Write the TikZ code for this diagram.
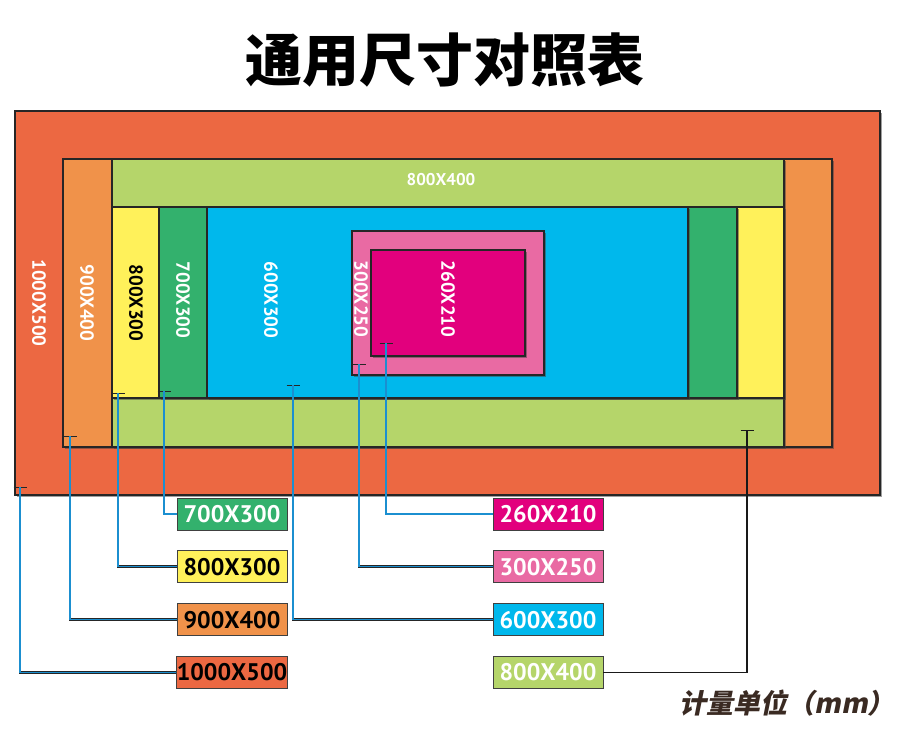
\documentclass[tikz,border=0pt]{standalone}
\usepackage{fontspec}
\setmainfont{PT Sans}
\newfontfamily\cjk{Noto Sans CJK SC}
\newfontfamily\cjkslant{Noto Sans CJK SC}[FakeSlant=0.2]
\usepackage{tikz}
\usetikzlibrary{
  arrows.meta,
  positioning,
  shadows
}
\definecolor{size1000}{HTML}{EC6842}
\definecolor{size900}{HTML}{F0924A}
\definecolor{size800b}{HTML}{B5D56A}
\definecolor{size800}{HTML}{FFF15A}
\definecolor{size700}{HTML}{33B16D}
\definecolor{size600}{HTML}{00B8EC}
\definecolor{size300}{HTML}{E96AA3}
\definecolor{size260}{HTML}{E2007D}
\definecolor{linkblue}{HTML}{1B8FD0}
\definecolor{unitbrown}{HTML}{3A2A22}

\begin{document}
\begin{tikzpicture}[
    x=1pt, y=-1pt,
    % Styles
    sizebox/.style={
        rectangle, draw=black!85, line width=1.2pt,
        fill=#1, inner sep=0pt, outer sep=0pt,
        drop shadow={shadow xshift=1.5pt, shadow yshift=-1.5pt, fill=black!75}
    },
    vlabel/.style={
        rotate=-90, inner sep=0pt,
        font=\bfseries\fontsize{19}{19}\selectfont
    },
    legend/.style={
        rectangle, draw=black!75, line width=0.8pt,
        fill=#1, inner sep=0pt,
        minimum width=110pt, minimum height=32pt,
        font=\bfseries\fontsize{24}{24}\selectfont
    },
    link/.style={
        draw=black!85, line width=2.8pt,
        {Bar[width=13pt, line width=1.4pt]}-,
        postaction={draw=linkblue, line width=1.2pt, -}
    },
    plainlink/.style={draw=black!90, line width=1.4pt, {Bar[width=13pt, line width=1.4pt]}-}
]
\path[use as bounding box, fill=white] (0,0) rectangle (900,729);

% ── TITLE ──
\node[font=\cjk\bfseries\fontsize{57}{57}\selectfont] (title) at (445,60) {通用尺寸对照表};

% ── SIZE FRAMES ──
\node[sizebox=size1000, minimum width=865, minimum height=384] (f1000) at (447.5,303) {};
\node[sizebox=size900, minimum width=769, minimum height=288] (f900) at (447.5,303) {};
\node[sizebox=size800b, minimum width=672, minimum height=288] (f800b) at (448,303) {};
\node[sizebox=size800, minimum width=672, minimum height=191] (f800) at (448,302.5) {};
\node[sizebox=size700, minimum width=578, minimum height=191] (f700) at (448,302.5) {};
\node[sizebox=size600, minimum width=481, minimum height=191] (f600) at (447.5,302.5) {};
\node[sizebox=size300, minimum width=192, minimum height=144] (f300) at (448,303) {};
\node[sizebox=size260, minimum width=154, minimum height=106] (f260) at (448,303) {};

% ── FRAME LABELS ──
\node[vlabel, text=white] (l1000) at (39,303) {1000X500};
\node[vlabel, text=white] (l900) at (87,303) {900X400};
\node[vlabel, text=black] (l800) at (136,303) {800X300};
\node[vlabel, text=white] (l700) at (183,300) {700X300};
\node[vlabel, text=white] (l600) at (271,300) {600X300};
\node[vlabel, text=white] (l300) at (361,299) {300X250};
\node[vlabel, text=white] (l260) at (448,299) {260X210};
\node[font=\bfseries\fontsize{17}{17}\selectfont, text=white] (l800b) at (441,180) {800X400};

% ── LEGEND ──
\node[legend=size700, text=white] (k700) at (232,514) {700X300};
\node[legend=size800, below=20pt of k700] (k800) {800X300};
\node[legend=size900, below=20pt of k800] (k900) {900X400};
\node[legend=size1000, below=20pt of k900] (k1000) {1000X500};

\node[legend=size260, text=white] (k260) at (548,514) {260X210};
\node[legend=size300, text=white, below=20pt of k260] (k300) {300X250};
\node[legend=size600, text=white, below=20pt of k300] (k600) {600X300};
\node[legend=size800b, text=white, below=20pt of k600] (k800b) {800X400};

% ── CONNECTORS ──
\coordinate (t1000) at (20,487);
\coordinate (t900) at (70,436);
\coordinate (t800) at (118,393);
\coordinate (t700) at (164,391);
\coordinate (t600) at (293,385);
\coordinate (t300) at (359,364);
\coordinate (t260) at (386,343);
\coordinate (t800b) at (747,430);

\draw[link] (t1000) |- (k1000.west);
\draw[link] (t900) |- (k900.west);
\draw[link] (t800) |- (k800.west);
\draw[link] (t700) |- (k700.west);
\draw[link] (t600) |- (k600.west);
\draw[link] (t300) |- (k300.west);
\draw[link] (t260) |- (k260.west);
\draw[plainlink] (t800b) |- (k800b.east);

% ── UNIT ──
\node[font=\cjkslant\bfseries\fontsize{27}{27}\selectfont, text=unitbrown] (unit) at (787,703) {计量单位（mm）};

\end{tikzpicture}
\end{document}
